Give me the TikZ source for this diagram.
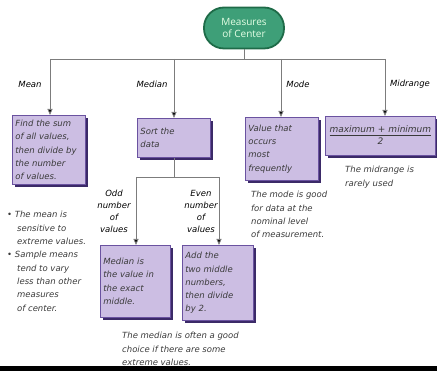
\documentclass[tikz,border=0pt]{standalone}
\usepackage{fontspec}
\setmainfont{DejaVu Sans}
\newfontfamily\topfont{Open Sans}
\usetikzlibrary{arrows.meta,shadows}
\definecolor{greenfill}{HTML}{3E9F78}
\definecolor{greenline}{HTML}{1E6B48}
\definecolor{boxfill}{HTML}{CCBEE3}
\definecolor{boxline}{HTML}{6A52A0}
\definecolor{boxshadow}{HTML}{3B2A68}
\definecolor{linegray}{HTML}{7C7C7C}
\definecolor{txt}{HTML}{3A3A3A}
\tikzset{
  conn/.style={draw=linegray, line width=0.9pt},
  arr/.style={conn, -{Triangle[length=6pt,width=5pt,fill=black]}},
  purplebox/.style={draw=boxline, line width=0.8pt, fill=boxfill, anchor=north west,
     inner xsep=3pt, inner ysep=3pt, align=left, text=txt,
     font=\fontsize{8.5}{13.2}\selectfont\itshape,
     drop shadow={shadow xshift=3pt, shadow yshift=-3pt, fill=boxshadow, opacity=1}},
  lbl/.style={text=black, font=\fontsize{8.5}{12}\selectfont\itshape, inner sep=0pt},
  note/.style={text=txt, font=\fontsize{8.5}{13.4}\selectfont\itshape, inner sep=0pt, align=left, anchor=north west},
}
\begin{document}
\begin{tikzpicture}[x=1pt,y=-1pt]
\useasboundingbox (0,0) rectangle (437,371);
% top node
\node[draw=greenline, line width=1.8pt, fill=greenfill, rounded corners=20pt,
      minimum width=80pt, minimum height=41pt, align=center, text=white!90!green,
      font=\topfont\fontsize{10}{12.5}\selectfont] (top) at (244,28) {Measures\\of Center};
% junction coordinates
\coordinate (jtop) at (244,59);
\coordinate (jmean) at (50,59);
\coordinate (jmed) at (174,59);
\coordinate (jmode) at (281,59);
\coordinate (jmid) at (385,59);
% boxes
\node[purplebox, minimum width=73pt, minimum height=69pt, text width=67pt] (meanbox) at (12,115)
  {Find the sum\\of all values,\\then divide by\\the number\\of values.};
\node[purplebox, minimum width=73pt, minimum height=39pt, text width=67pt] (sortbox) at (137,118)
  {Sort the\\data};
\node[purplebox, minimum width=73pt, minimum height=63pt, text width=67pt] (modebox) at (245,117)
  {Value that\\occurs\\most\\frequently};
\node[purplebox, minimum width=110pt, minimum height=39pt, align=center, text width=104pt,
      font=\fontsize{9}{12}\selectfont\itshape] (midbox) at (325,116)
  {\begin{tabular}{@{}c@{}}maximum + minimum\\[-1pt]\hline\\[-11pt] 2\end{tabular}};
\node[purplebox, minimum width=70pt, minimum height=72pt, text width=64pt] (medbox) at (100,245)
  {Median is\\the value in\\the exact\\middle.};
\node[purplebox, minimum width=71pt, minimum height=75pt, text width=65pt] (addbox) at (182,245)
  {Add the\\two middle\\numbers,\\then divide\\by 2.};
% main connectors
\draw[conn] (top.south) -- (jtop);
\draw[conn] (jmean) -- (jmid);
\draw[arr] (jmean) -- (meanbox.north -| jmean);
\draw[arr] (jmed) -- (sortbox.north -| jmed);
\draw[arr] (jmode) -- (modebox.north -| jmode);
\draw[arr] (jmid) -- (midbox.north -| jmid);
% labels
\node[lbl] (lmean) at (30,84) {Mean};
\node[lbl] (lmed) at (152,84) {Median};
\node[lbl] (lmode) at (298,84) {Mode};
\node[lbl] (lmid) at (410,84) {Midrange};
% median sub-branch
\coordinate (jsort) at (174,177);
\coordinate (jodd) at (136,177);
\coordinate (jeven) at (219,177);
\draw[conn] (sortbox.south -| jsort) -- (jsort);
\draw[conn] (jodd) -- (jeven);
\draw[arr] (jodd) -- (medbox.north -| jodd);
\draw[arr] (jeven) -- (addbox.north -| jeven);
\node[lbl, align=center, font=\fontsize{8.5}{12}\selectfont\itshape] (lodd) at (114,211) {Odd\\number\\of\\values};
\node[lbl, align=center, font=\fontsize{8.5}{12}\selectfont\itshape] (leven) at (201,211) {Even\\number\\of\\values};
% notes
\node[note] (meannote1) at (7,211) {\textbullet\ The mean is\\\hspace*{10pt}sensitive to\\\hspace*{10pt}extreme values.};
\node[note] (meannote2) at (7,251) {\textbullet\ Sample means\\\hspace*{10pt}tend to vary\\\hspace*{10pt}less than other\\\hspace*{10pt}measures\\\hspace*{10pt}of center.};
\node[note] (modenote) at (251,191) {The mode is good\\for data at the\\nominal level\\of measurement.};
\node[note] (midnote) at (345,166) {The midrange is\\rarely used};
\node[note] (mednote) at (122,332) {The median is often a good\\choice if there are some\\extreme values.};
% bottom bar
\fill[black] (0,366) rectangle (437,371);
\end{tikzpicture}
\end{document}
